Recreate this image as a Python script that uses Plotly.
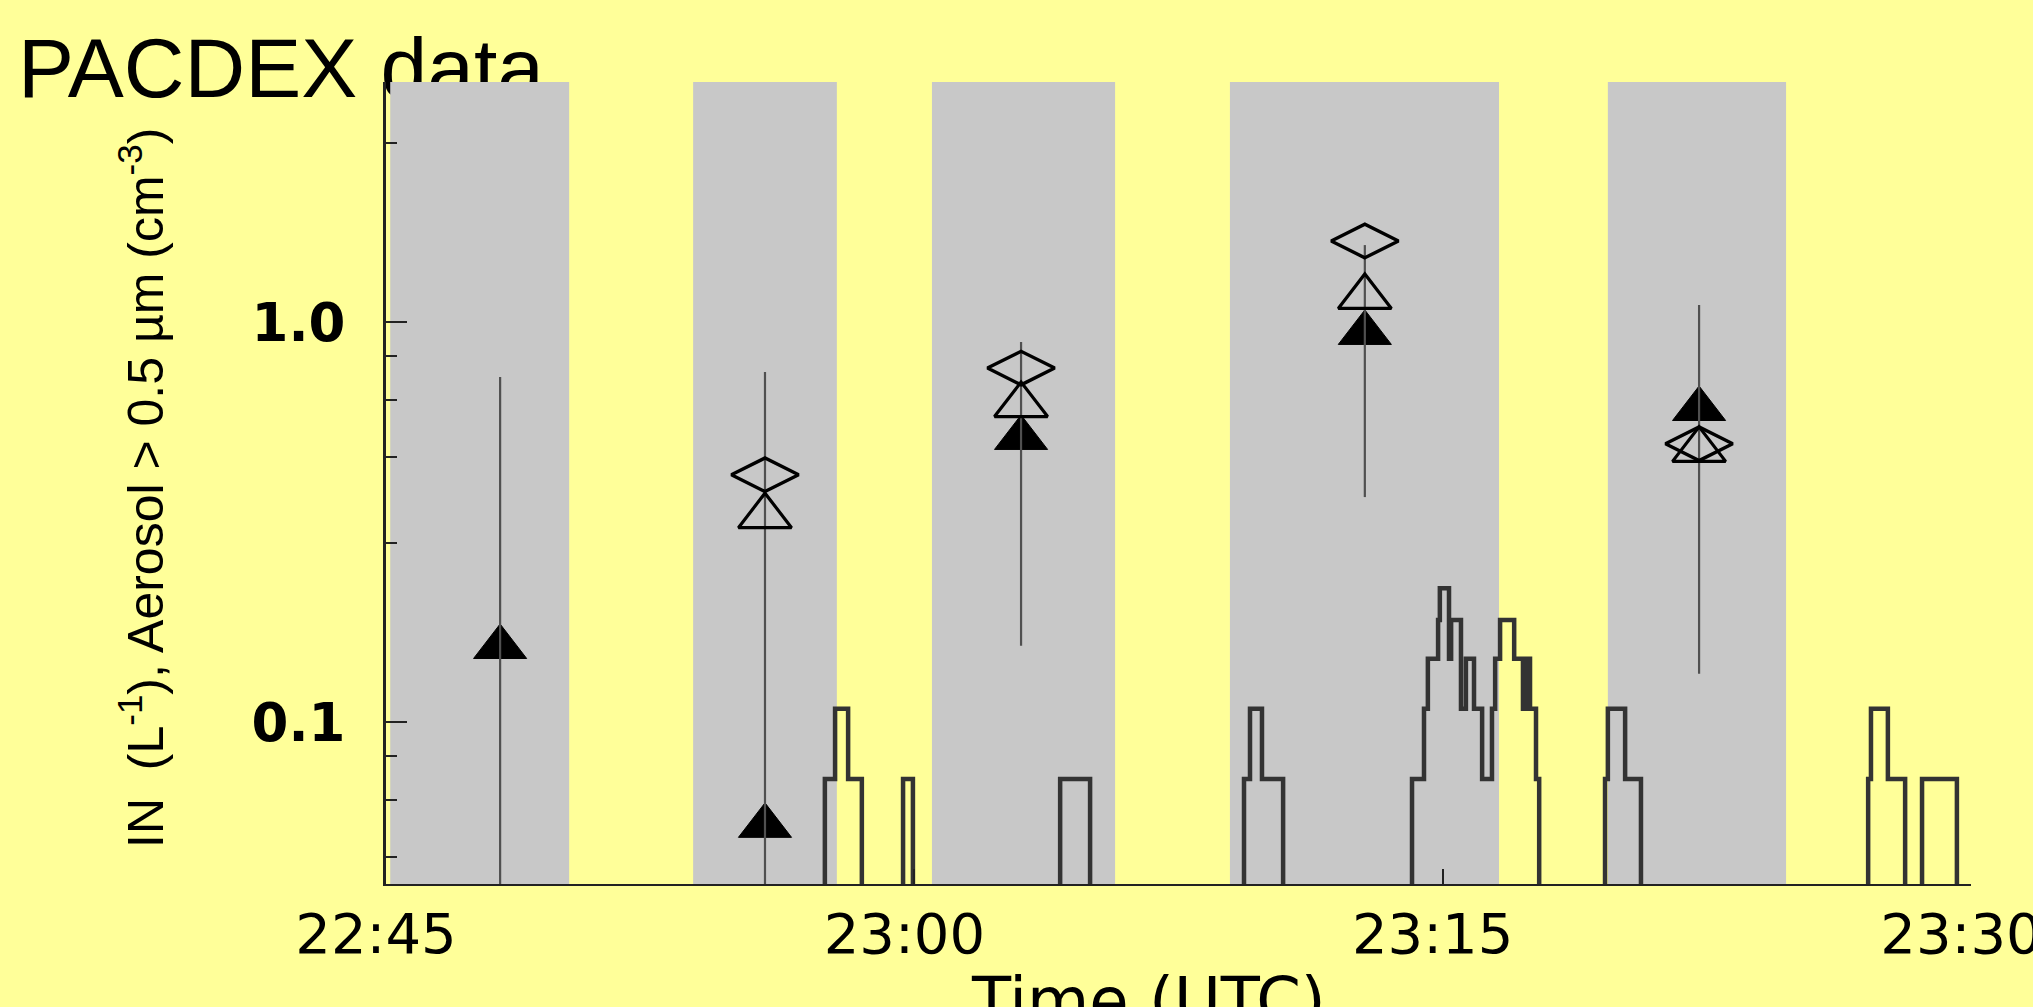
import plotly.graph_objects as go

# ---------------- data ----------------
# time axis: minutes after 22:45 UTC
tick_minutes = [0, 15, 30, 45]
tick_labels = ["22:45", "23:00", "23:15", "23:30"]

# grey sampling periods (start / end, minutes after 22:45)
band_start = [0.12, 8.72, 15.50, 23.96, 34.69]
band_end = [5.20, 12.80, 20.70, 31.60, 39.75]

# IN sample points
sample_t = [3.24, 10.76, 18.03, 27.79, 37.28]
in_filled = [0.154, 0.055, 0.513, 0.939, 0.606]
in_open = [None, 0.327, 0.620, 1.155, 0.479]
in_diamond = [None, 0.415, 0.767, 1.594, 0.496]
err_hi = [0.729, 0.750, 0.891, 1.557, 1.103]
err_lo = [0.030, 0.030, 0.155, 0.365, 0.132]

# aerosol > 0.5 um step record (value holds from each time to the next)
step_t = [0.0, 12.46, 12.75, 13.12, 13.51, 14.68, 14.96, 19.14, 19.99, 24.36, 24.53, 24.87, 25.47,
          29.13, 29.47, 29.58, 29.87, 29.92, 30.18, 30.24, 30.52, 30.66, 30.89, 31.12, 31.40, 31.49,
          31.63, 32.03, 32.28, 32.37, 32.48, 32.65, 32.74,
          34.61, 34.69, 35.18, 35.63, 42.08, 42.16, 42.64, 43.13, 43.61, 44.60, 45.0]
step_v = [0.036, 0.072, 0.108, 0.072, 0.036, 0.072, 0.036, 0.072, 0.036, 0.072, 0.108, 0.072, 0.036,
          0.072, 0.108, 0.144, 0.180, 0.216, 0.144, 0.180, 0.108, 0.144, 0.108, 0.072, 0.108, 0.144,
          0.180, 0.144, 0.108, 0.144, 0.108, 0.072, 0.036,
          0.072, 0.108, 0.072, 0.036, 0.072, 0.108, 0.072, 0.036, 0.072, 0.036, 0.036]

y_major = [0.1, 1.0]
y_major_labels = ["0.1", "1.0"]
y_minor = [0.046, 0.064, 0.082, 0.28, 0.46, 0.64, 0.82, 2.8]

title_text = "PACDEX data"
x_title = "Time (UTC)"
y_title = "IN  (L<sup>-1</sup>), Aerosol > 0.5 µm (cm<sup>-3</sup>)"

# ---------------- style / layout constants ----------------
W, H = 2033, 1007
YELLOW = "#FFFF99"
GREY = "#C8C8C8"
INK = "#222222"
X_RANGE = [0, 45]
Y_RANGE_LOG = [-1.405, 0.6]
FILL_LO, FILL_HI = 0.01, 10.0
PLOT_L, PLOT_R, PLOT_T, PLOT_B = 386, 1971, 82, 884   # plot-area edges in page pixels
PW, PH = PLOT_R - PLOT_L, PLOT_B - PLOT_T


def px(xpix):
    """page x pixel -> paper x"""
    return (xpix - PLOT_L) / PW


def py(ypix):
    """page y pixel (from top) -> paper y"""
    return (PLOT_B - ypix) / PH


fig = go.Figure()

# grey bands
bx, by = [], []
for s, e in zip(band_start, band_end):
    bx += [s, s, e, e, s, None]
    by += [FILL_LO, FILL_HI, FILL_HI, FILL_LO, FILL_LO, None]
fig.add_trace(go.Scatter(
    x=bx, y=by, mode="lines", fill="toself", fillcolor=GREY,
    line=dict(width=0, color=GREY), hoverinfo="skip", showlegend=False))

# aerosol step line
fig.add_trace(go.Scatter(
    x=step_t, y=step_v, mode="lines", line=dict(shape="hv", color="#333333", width=4.5),
    hoverinfo="skip", showlegend=False))

# filled triangles
fig.add_trace(go.Scatter(
    x=sample_t, y=in_filled, mode="markers",
    marker=dict(symbol="triangle-up", size=46, color="black", line=dict(color="black", width=1)),
    showlegend=False))

# error lines
ex, ey = [], []
for t, lo, hi in zip(sample_t, err_lo, err_hi):
    ex += [t, t, None]
    ey += [lo, hi, None]
fig.add_trace(go.Scatter(
    x=ex, y=ey, mode="lines", line=dict(color="#505050", width=2.2),
    hoverinfo="skip", showlegend=False))

# open triangles
fig.add_trace(go.Scatter(
    x=sample_t, y=in_open, mode="markers",
    marker=dict(symbol="triangle-up-open", size=46, color="black", line=dict(color="black", width=3.2)),
    showlegend=False))

# open diamonds
fig.add_trace(go.Scatter(
    x=sample_t, y=in_diamond, mode="markers",
    marker=dict(symbol="diamond-wide-open", size=48, color="black", line=dict(color="black", width=3.4)),
    showlegend=False))

fig.update_layout(
    width=W, height=H,
    margin=dict(l=PLOT_L, r=W - PLOT_R, t=PLOT_T, b=H - PLOT_B, pad=0),
    paper_bgcolor=YELLOW, plot_bgcolor=YELLOW,
    showlegend=False,
    font=dict(family="DejaVu Sans, sans-serif", color="black"),
    xaxis=dict(
        range=X_RANGE, tickmode="array", tickvals=tick_minutes, ticktext=tick_labels,
        ticks="inside", ticklen=15, tickwidth=2, tickcolor=INK,
        showline=True, linecolor=INK, linewidth=2, mirror=False,
        showgrid=False, zeroline=False, automargin=False, fixedrange=True,
        tickfont=dict(family="DejaVu Sans, sans-serif", size=56, color="black"),
        ticklabelshift=-10, ticklabelstandoff=0, ticklabeloverflow="allow",
    ),
    yaxis=dict(
        type="log", range=Y_RANGE_LOG, tickmode="array", tickvals=y_major, ticktext=y_major_labels,
        ticks="inside", ticklen=21, tickwidth=2, tickcolor=INK,
        minor=dict(tickmode="array", tickvals=y_minor, ticks="inside", ticklen=11,
                   tickwidth=2, tickcolor=INK, showgrid=False),
        showline=True, linecolor=INK, linewidth=3, mirror=False,
        showgrid=False, zeroline=False, automargin=False, fixedrange=True,
        tickfont=dict(family="DejaVu Sans, sans-serif", size=53, color="black", weight="bold"),
        ticklabelstandoff=27,
    ),
    # slide title as a label on an invisible paper shape drawn below the traces,
    # so the grey band hides its lower edge as in the original slide
    shapes=[
        dict(type="rect", xref="paper", yref="paper", layer="below",
             x0=px(12), x1=px(700), y0=py(90), y1=py(30),
             line=dict(width=0), fillcolor="rgba(0,0,0,0)",
             label=dict(text=title_text, textposition="middle left", padding=3,
                        font=dict(family="Liberation Sans, Arial, sans-serif", size=84, color="black"))),
    ],
    annotations=[
        dict(text=x_title, xref="paper", yref="paper", x=px(1148), y=py(962),
             xanchor="center", yanchor="top", showarrow=False,
             font=dict(family="DejaVu Sans, sans-serif", size=64, color="black")),
        dict(text=y_title, xref="paper", yref="paper", x=px(142), y=py(488), textangle=-90,
             xanchor="center", yanchor="middle", showarrow=False,
             font=dict(family="Liberation Sans, Arial, sans-serif", size=50, color="black")),
    ],
)

fig.write_html("out.html", config={"displayModeBar": False},
               post_script="document.body.style.margin='0';")
